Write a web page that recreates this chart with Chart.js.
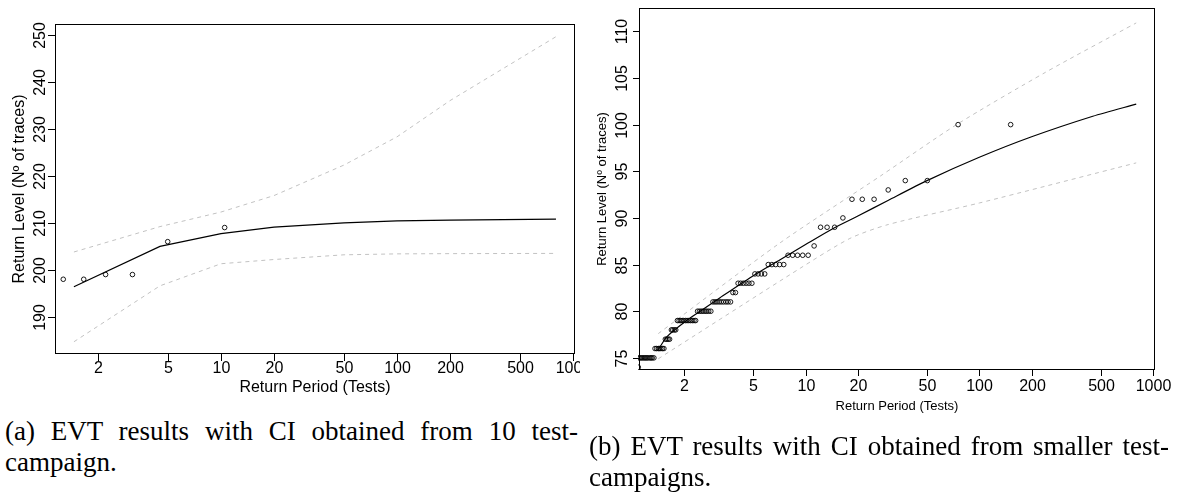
<!DOCTYPE html>
<html>
<head>
<meta charset="utf-8">
<script src="https://cdn.jsdelivr.net/npm/chart.js@4.4.1/dist/chart.umd.min.js"></script>
<style>
  body { margin: 0; background: #fff; width: 1180px; height: 500px; position: relative; overflow: hidden; }
  canvas { position: absolute; top: 0; background: #fff; }
  #chartA { left: 0; }
  #chartB { left: 580px; }
  .cap { position: absolute; font-family: "Liberation Serif", "Times New Roman", serif; font-size: 27px; line-height: 31px; color: #000; }
  .cap .l1 { text-align: justify; text-align-last: justify; }
  #capA { left: 5px; top: 416px; width: 573px; }
  #capB { left: 589px; top: 431px; width: 580px; }
</style>
</head>
<body>
<canvas id="chartA" width="590" height="410"></canvas>
<canvas id="chartB" width="600" height="420"></canvas>
<div class="cap" id="capA"><div class="l1">(a) EVT results with CI obtained from 10 test-</div><div>campaign.</div></div>
<div class="cap" id="capB"><div class="l1">(b) EVT results with CI obtained from smaller test-</div><div>campaigns.</div></div>
<script>
const xTicks = [2, 5, 10, 20, 50, 100, 200, 500, 1000];
const yTicksA = [190, 200, 210, 220, 230, 240, 250];
const yTicksB = [75, 80, 85, 90, 95, 100, 105, 110];

// (a) 10 test-campaign
const obsPeriodA = [10.49, 4.98, 3.14, 2.21, 1.66, 1.27];
const obsLevelA = [209, 206, 199, 199, 198, 198];
const curvePeriodA = [1.46, 4.5, 10, 20, 50, 100, 200, 800];
const fitLevelA = [196.4, 205.0, 207.7, 209.1, 210.0, 210.4, 210.6, 210.8];
const upperLevelA = [203.8, 209.2, 212.3, 215.8, 222.3, 228.3, 236.0, 249.6];
const lowerLevelA = [184.7, 196.6, 201.3, 202.2, 203.2, 203.4, 203.45, 203.5];

// (b) smaller test-campaigns
const obsPeriodB = [
    151.5, 75.5, 50.2, 37.5, 29.9, 24.8, 21.2, 18.5, 16.4, 14.7,
    13.3, 12.2, 11.2, 10.35, 9.63, 8.99, 8.43, 7.93, 7.49, 7.09,
    6.73, 6.40, 6.10, 5.82, 5.57, 5.33, 5.11, 4.91, 4.72, 4.55,
    4.38, 4.23, 4.09, 3.95, 3.82, 3.70, 3.58, 3.48, 3.37, 3.27,
    3.18, 3.09, 3.01, 2.93, 2.85, 2.77, 2.70, 2.64, 2.57, 2.51,
    2.45, 2.39, 2.33, 2.28, 2.23, 2.18, 2.13, 2.08, 2.04, 1.99,
    1.95, 1.91, 1.87, 1.83, 1.79, 1.76, 1.72, 1.69, 1.65, 1.62,
    1.59, 1.56, 1.53, 1.50, 1.47, 1.44, 1.42, 1.39, 1.36, 1.34,
    1.31, 1.29, 1.27, 1.24, 1.22, 1.20, 1.18, 1.16, 1.14, 1.12,
    1.10, 1.09
];
const obsLevelB = [
    100, 100, 94, 94, 93, 92, 92, 92, 90, 89,
    89, 89, 87, 86, 86, 86, 86, 86, 85, 85,
    85, 85, 85, 84, 84, 84, 84, 83, 83, 83,
    83, 83, 83, 82, 82, 81, 81, 81, 81, 81,
    81, 81, 81, 81, 80, 80, 80, 80, 80, 80,
    80, 80, 79, 79, 79, 79, 79, 79, 79, 79,
    79, 79, 79, 79, 78, 78, 78, 78, 77, 77,
    77, 77, 76, 76, 76, 76, 76, 76, 76, 75,
    75, 75, 75, 75, 75, 75, 75, 75, 75, 75,
    75, 74
];
const fitPeriodB = [1.42, 1.6, 2.05, 2.5, 3.22, 4.9, 7.1, 10, 14.5, 20, 30, 50, 100, 200, 450, 800];
const fitLevelB = [75.9, 77.3, 78.95, 80.05, 81.45, 83.7, 85.5, 87.15, 88.9, 90.2, 91.9, 94.0, 96.5, 98.7, 100.9, 102.2];
const upperPeriodB = [1.42, 7.1, 27, 74, 240, 800];
const upperLevelB = [77.6, 87.3, 94.5, 100.0, 105.6, 110.9];
const lowerPeriodB = [1.42, 9.3, 18, 30, 100, 800];
const lowerLevelB = [74.9, 84.6, 87.8, 89.3, 91.6, 95.9];

function pairs(xs, ys) {
    return xs.map((x, i) => ({x: x, y: ys[i]}));
}

// R style box, ticks and labels, placed with the chart's own scales
const rAxes = {
    id: 'rAxes',
    afterDraw(chart, args, o) {
        const ctx = chart.ctx;
        const a = chart.chartArea;
        const sx = chart.scales.x, sy = chart.scales.y;
        ctx.save();
        ctx.strokeStyle = '#000';
        ctx.lineWidth = 1;
        ctx.strokeRect(a.left + 0.5, a.top + 0.5, a.right - a.left - 1, a.bottom - a.top - 1);
        ctx.fillStyle = '#000';
        ctx.textAlign = 'center';
        ctx.textBaseline = 'alphabetic';
        ctx.font = o.tickFont;
        o.xTicks.forEach(v => {
            const px = Math.round(sx.getPixelForValue(v)) + 0.5;
            ctx.beginPath();
            ctx.moveTo(px, a.bottom);
            ctx.lineTo(px, a.bottom + o.tickLen);
            ctx.stroke();
            ctx.fillText(String(v), px, a.bottom + o.xLabelGap);
        });
        o.yTicks.forEach(v => {
            const py = Math.round(sy.getPixelForValue(v)) + 0.5;
            ctx.beginPath();
            ctx.moveTo(a.left, py);
            ctx.lineTo(a.left - o.tickLen, py);
            ctx.stroke();
            ctx.save();
            ctx.translate(a.left - o.yLabelGap, py);
            ctx.rotate(-Math.PI / 2);
            ctx.fillText(String(v), 0, 0);
            ctx.restore();
        });
        ctx.font = o.titleFont;
        ctx.fillText(o.xTitle, (a.left + a.right) / 2, a.bottom + o.xTitleGap);
        ctx.save();
        ctx.translate(a.left - o.yTitleGap, (a.top + a.bottom) / 2);
        ctx.rotate(-Math.PI / 2);
        ctx.fillText(o.yTitle, 0, 0);
        ctx.restore();
        ctx.restore();
    }
};

function makeChart(id, cfg) {
    const dashed = {
        showLine: true, pointRadius: 0, borderColor: '#c2c2c2', borderWidth: 1,
        borderDash: [4, 4], fill: false, tension: cfg.tension, clip: 0
    };
    new Chart(document.getElementById(id), {
        type: 'scatter',
        data: {
            datasets: [
                {data: cfg.points, showLine: false, pointRadius: 2.3, pointBorderWidth: 0.9,
                    pointBorderColor: '#000', pointBackgroundColor: 'rgba(0,0,0,0)',
                    clip: {left: 1, top: 0, right: 0, bottom: 0}},
                Object.assign({data: cfg.upper}, dashed),
                Object.assign({data: cfg.lower}, dashed),
                {data: cfg.fit, showLine: true, pointRadius: 0, borderColor: '#000',
                    borderWidth: 1.2, fill: false, tension: cfg.tension, clip: 0}
            ]
        },
        options: {
            responsive: false,
            animation: false,
            layout: {padding: cfg.padding},
            plugins: {
                legend: {display: false},
                tooltip: {enabled: false},
                rAxes: cfg.axes
            },
            scales: {
                x: {type: 'logarithmic', min: cfg.xMin, max: cfg.xMax, display: false},
                y: {type: 'linear', min: cfg.yMin, max: cfg.yMax, display: false}
            }
        },
        plugins: [rAxes]
    });
}

makeChart('chartA', {
    points: pairs(obsPeriodA, obsLevelA),
    fit: pairs(curvePeriodA, fitLevelA),
    upper: pairs(curvePeriodA, upperLevelA),
    lower: pairs(curvePeriodA, lowerLevelA),
    tension: 0,
    padding: {left: 55, right: 15, top: 24, bottom: 56},
    xMin: 1.14, xMax: 1026, yMin: 182.1, yMax: 252.3,
    axes: {
        xTicks: xTicks, yTicks: yTicksA, tickLen: 7,
        tickFont: '16px "Liberation Sans", Arial, sans-serif',
        titleFont: '16px "Liberation Sans", Arial, sans-serif',
        xLabelGap: 19, yLabelGap: 10, xTitleGap: 38, yTitleGap: 31,
        xTitle: 'Return Period (Tests)', yTitle: 'Return Level (Nº of traces)'
    }
});

makeChart('chartB', {
    points: pairs(obsPeriodB, obsLevelB),
    fit: pairs(fitPeriodB, fitLevelB),
    upper: pairs(upperPeriodB, upperLevelB),
    lower: pairs(lowerPeriodB, lowerLevelB),
    tension: 0.25,
    padding: {left: 59, right: 25, top: 8, bottom: 50},
    xMin: 1.10, xMax: 1026, yMin: 73.7, yMax: 112.5,
    axes: {
        xTicks: xTicks, yTicks: yTicksB, tickLen: 6,
        tickFont: '16px "Liberation Sans", Arial, sans-serif',
        titleFont: '13px "Liberation Sans", Arial, sans-serif',
        xLabelGap: 21, yLabelGap: 12, xTitleGap: 40, yTitleGap: 33,
        xTitle: 'Return Period (Tests)', yTitle: 'Return Level (Nº of traces)'
    }
});
</script>
</body>
</html>
